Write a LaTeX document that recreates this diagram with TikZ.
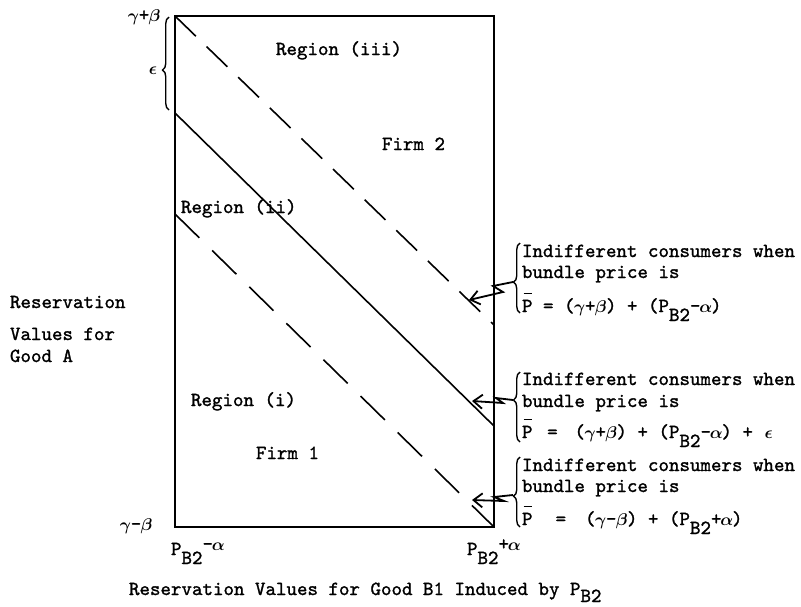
\documentclass[tikz,border=0pt]{standalone}
\usepackage{fontspec}
\usetikzlibrary{decorations.pathreplacing,arrows.meta}
\newfontfamily\twfont{lmmono10-regular.otf}[FakeBold=1.3]
\newlength\tcw
\setlength\tcw{10.5pt}
\newcommand\grk[1]{\makebox[\tcw]{\fontsize{10}{10}\selectfont\scalebox{1.7}{$\boldsymbol{#1}$}}}
\newcommand\lowr[1]{\raisebox{-9pt}{#1}}
\newcommand\pbar{\rlap{\hspace{1.5pt}\raisebox{18pt}{\rule{8pt}{1.4pt}}}P}
\usepackage{amsmath,amssymb}
\begin{document}
\begin{tikzpicture}[x=1pt,y=-1pt,
  font=\twfont\fontsize{20}{24}\selectfont,
  lbl/.style={anchor=base west,inner sep=0pt,outer sep=0pt},
  frame/.style={line width=1.6pt},
  dashA/.style={line width=1.6pt,dash pattern=on 29pt off 15pt},
  dashB/.style={line width=1.6pt,dash pattern=on 34pt off 18pt},
  brc/.style={line width=1.4pt,decorate,decoration={brace,amplitude=6.5pt,aspect=#1}},
  brc/.default=0.5,
  conn/.style={line width=1.8pt,-{Straight Barb[length=9pt,width=14pt,line width=1.8pt]}}]
\useasboundingbox (0,0) rectangle (801,606);
% frame
\coordinate (tl) at (175,16);
\coordinate (tr) at (494,16);
\coordinate (br) at (494,527);
\coordinate (bl) at (175,527);
\draw[frame] (tl) -- (tr) -- (br) -- (bl) -- cycle;
% diagonals
\coordinate (ur) at (494,325);
\coordinate (sl) at (175,113);
\coordinate (sr) at (494,426);
\coordinate (ll) at (175,214);
\draw[dashA] (tl) -- (ur);
\draw[frame] (sl) -- (sr);
\draw[dashB] (ll) -- (br);
% top-left brace
\draw[brc=0.43] (169,110) -- (169,17);
\node (eps) at (153,71) {\grk\epsilon};
\node[anchor=base east,inner sep=0pt] (gtop) at (160,21) {\grk\gamma+\grk\beta};
\node[anchor=base east,inner sep=0pt] (gbot) at (152,530) {\grk\gamma-\grk\beta};
% region labels
\node[lbl] (r3) at (276,55) {Region (iii)};
\node[lbl] (f2) at (382,150) {Firm 2};
\node[lbl] (r2) at (181,213) {Region (ii)};
\node[lbl] (r1) at (191,406) {Region (i)};
\node[lbl] (f1) at (256,459) {Firm 1};
% axis labels
\node[lbl] (ra) at (10,308) {Reservation};
\node[lbl] (va) at (10,340) {Values for};
\node[lbl] (ga) at (10,362) {Good A};
\node[lbl] (pl) at (171,555) {P\lowr{B2}\raisebox{5pt}{-\grk\alpha}};
\node[lbl] (pr) at (467,555) {P\lowr{B2}\raisebox{5pt}{+\grk\alpha}};
\node[lbl] (xl) at (129,595) {Reservation Values for Good B1 Induced by P\raisebox{-7pt}{B2}};
% annotation 1
\node[lbl] (a1a) at (522,257) {Indifferent consumers when};
\node[lbl] (a1b) at (522,278) {bundle price is};
\node[lbl] (a1c) at (522,312) {\pbar{} = (\grk\gamma+\grk\beta) + (P\lowr{B2}-\grk\alpha)};
\draw[brc=0.44] (520,313) -- (520,243);
% annotation 2
\node[lbl] (a2a) at (522,385) {Indifferent consumers when};
\node[lbl] (a2b) at (522,407) {bundle price is};
\node[lbl] (a2c) at (522,438) {\pbar\hspace{1.4\tcw}=\hspace{1.6\tcw}(\grk\gamma+\grk\beta) + (P\lowr{B2}-\grk\alpha) + \grk\epsilon};
\draw[brc=0.6] (520,442) -- (520,372);
% annotation 3
\node[lbl] (a3a) at (522,471) {Indifferent consumers when};
\node[lbl] (a3b) at (522,492) {bundle price is};
\node[lbl] (a3c) at (522,525) {\pbar\hspace{2.2\tcw}=\hspace{1.8\tcw}(\grk\gamma-\grk\beta) + (P\lowr{B2}+\grk\alpha)};
\draw[brc=0.44] (520,527) -- (520,457);
% connectors
\coordinate (b1) at (513,282);
\coordinate (t1) at (469,300);
\coordinate (b2) at (513,400);
\coordinate (t2) at (472,401);
\coordinate (b3) at (513,495);
\coordinate (t3) at (472,500);
\draw[conn] (b1) -- (493,286) -- (503,292) -- (t1);
\draw[conn] (b2) -- (496,398) -- (503,403) -- (t2);
\draw[conn] (b3) -- (494,497) -- (504,501) -- (t3);
\end{tikzpicture}
\end{document}
